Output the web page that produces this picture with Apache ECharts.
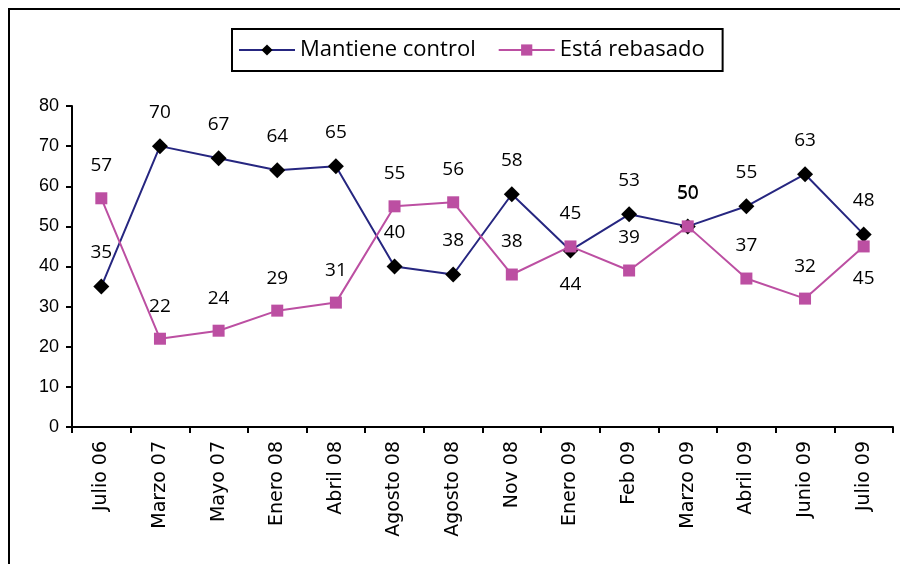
<!DOCTYPE html>
<html>
<head>
<meta charset="utf-8">
<script src="https://cdn.jsdelivr.net/npm/echarts@6/dist/echarts.min.js"></script>
<style>
  html, body { margin: 0; padding: 0; background: #fff; }
  #chart { width: 900px; height: 564px; }
</style>
</head>
<body>
<div id="chart"></div>
<script>
const categories = ["Julio 06", "Marzo 07", "Mayo 07", "Enero 08", "Abril 08", "Agosto 08", "Agosto 08",
  "Nov 08", "Enero 09", "Feb 09", "Marzo 09", "Abril 09", "Junio 09", "Julio 09"];
const mantiene = [35, 70, 67, 64, 65, 40, 38, 58, 44, 53, 50, 55, 63, 48];
const rebasado = [57, 22, 24, 29, 31, 55, 56, 38, 45, 39, 50, 37, 32, 45];
// points whose value label sits under the marker
const mantieneBelow = [8];
const rebasadoBelow = [13];

const navy = "#262680";
const pink = "#BC4FA2";

function withLabels(values, below) {
  return values.map((v, i) => below.includes(i)
    ? { value: v, label: { position: "bottom", distance: 17 } }
    : v);
}

const chart = echarts.init(document.getElementById("chart"));
chart.setOption({
  animation: false,
  graphic: [{
    type: "rect",
    shape: { x: 9, y: 9, width: 900, height: 570 },
    style: { fill: "none", stroke: "#000", lineWidth: 2 },
    silent: true
  }],
  legend: {
    left: 232,
    top: 29,
    padding: [10, 18, 10, 6],
    borderColor: "#000",
    borderWidth: 2,
    itemWidth: 56,
    itemHeight: 14,
    itemGap: 22,
    textStyle: { fontFamily: "Open Sans", fontSize: 22, color: "#000" },
    data: ["Mantiene control", "Está rebasado"]
  },
  grid: { left: 72, right: 7, top: 106, bottom: 137 },
  xAxis: {
    type: "category",
    data: categories,
    boundaryGap: true,
    axisLine: { lineStyle: { color: "#000", width: 2 } },
    axisTick: { show: true, length: 6, lineStyle: { color: "#000", width: 2 } },
    axisLabel: {
      rotate: 90,
      interval: 0,
      margin: 14,
      color: "#000",
      fontFamily: "DejaVu Sans",
      fontSize: 19
    }
  },
  yAxis: {
    type: "value",
    min: 0,
    max: 80,
    interval: 10,
    axisLine: { show: true, lineStyle: { color: "#000", width: 2 } },
    axisTick: { show: true, length: 6, lineStyle: { color: "#000", width: 2 } },
    splitLine: { show: false },
    axisLabel: { margin: 13, color: "#000", fontFamily: "Liberation Sans", fontSize: 18 }
  },
  series: [
    {
      name: "Mantiene control",
      type: "line",
      data: withLabels(mantiene, mantieneBelow),
      symbol: "diamond",
      symbolSize: 16,
      lineStyle: { color: navy, width: 2 },
      itemStyle: { color: "#000" },
      label: {
        show: true,
        position: "top",
        distance: 16,
        color: "#000",
        fontFamily: "Open Sans",
        fontSize: 19
      },
      z: 3
    },
    {
      name: "Está rebasado",
      type: "line",
      data: withLabels(rebasado, rebasadoBelow),
      symbol: "rect",
      symbolSize: 12,
      lineStyle: { color: pink, width: 2 },
      itemStyle: { color: pink },
      label: {
        show: true,
        position: "top",
        distance: 17,
        color: "#000",
        fontFamily: "Open Sans",
        fontSize: 19
      },
      z: 4
    }
  ]
});
</script>
</body>
</html>
